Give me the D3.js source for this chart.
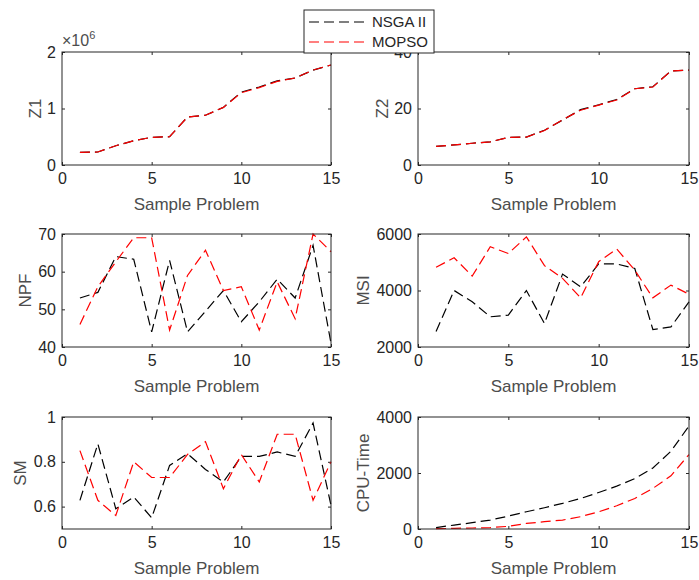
<!DOCTYPE html>
<html lang="en">
<head>
<meta charset="UTF-8">
<script src="https://d3js.org/d3.v7.min.js"></script>
<style>
    body { margin: 0; background: #fff; }
    svg { display: block; font-family: Arial, "Liberation Sans", Helvetica, sans-serif; }
    .tick text { fill: #262626; }
</style>
</head>
<body>
<script>
    // sample problems 1..15
    const problems = [1, 2, 3, 4, 5, 6, 7, 8, 9, 10, 11, 12, 13, 14, 15];
    const seriesNames = ["NSGA II", "MOPSO"];
    const xTicks = [0, 5, 10, 15];

    // values
    const z1Nsga = [225000, 230000, 340000, 430000, 490000, 500000, 850000, 880000, 1020000, 1290000, 1380000, 1490000, 1540000, 1680000, 1770000];
    const z1Mopso = [225000, 230000, 340000, 430000, 490000, 500000, 850000, 880000, 1020000, 1280000, 1370000, 1480000, 1540000, 1680000, 1770000];
    const z2Nsga = [6.6, 7.1, 7.7, 8.2, 9.8, 9.9, 12.3, 15.9, 19.6, 21.3, 23.2, 27.0, 27.7, 33.3, 33.6];
    const z2Mopso = [6.6, 7.1, 7.7, 8.2, 9.8, 9.9, 12.2, 16.0, 19.4, 21.2, 23.0, 27.0, 27.6, 33.3, 33.6];
    const npfNsga = [53, 54.5, 64, 63.3, 44, 63, 44, 49.5, 55, 46.7, 52, 58, 53, 67, 41];
    const npfMopso = [46, 56, 62.6, 69, 69, 44.5, 59, 65.7, 55, 56, 44.5, 57.3, 47.5, 70, 65.3];
    const msiNsga = [2550, 4000, 3600, 3070, 3130, 4000, 2830, 4580, 4130, 4940, 4940, 4780, 2620, 2710, 3600];
    const msiMopso = [4820, 5160, 4510, 5550, 5310, 5900, 4880, 4430, 3740, 5020, 5470, 4720, 3740, 4190, 3870];
    const smNsga = [0.628, 0.88, 0.59, 0.643, 0.55, 0.784, 0.836, 0.766, 0.71, 0.824, 0.824, 0.844, 0.824, 0.973, 0.606];
    const smMopso = [0.85, 0.628, 0.56, 0.80, 0.73, 0.73, 0.833, 0.89, 0.68, 0.832, 0.71, 0.923, 0.923, 0.628, 0.80];
    const cpuNsga = [50, 140, 225, 320, 460, 615, 760, 915, 1090, 1305, 1530, 1800, 2180, 2775, 3680];
    const cpuMopso = [10, 25, 35, 50, 95, 200, 260, 320, 440, 615, 830, 1090, 1450, 1900, 2660];

    const width = 699, height = 580;
    const colors = ["#000000", "#ff0000"];
    const axisColor = "#262626";

    // panel boxes (pixels) + axis setup
    const panels = [
        { label: "Z1", nsga: z1Nsga, mopso: z1Mopso, domain: [0, 2000000], ticks: [0, 1000000, 2000000], fmt: d => d / 1e6, box: [62, 331, 52, 165], labelOff: 27, exp: true },
        { label: "Z2", nsga: z2Nsga, mopso: z2Mopso, domain: [0, 40], ticks: [0, 20, 40], fmt: d => d, box: [418, 689, 52, 165], labelOff: 36 },
        { label: "NPF", nsga: npfNsga, mopso: npfMopso, domain: [40, 70], ticks: [40, 50, 60, 70], fmt: d => d, box: [62, 331, 234, 347], labelOff: 37 },
        { label: "MSI", nsga: msiNsga, mopso: msiMopso, domain: [2000, 6000], ticks: [2000, 4000, 6000], fmt: d => d, box: [418, 689, 234, 347], labelOff: 55 },
        { label: "SM", nsga: smNsga, mopso: smMopso, domain: [0.5, 1], ticks: [0.6, 0.8, 1], fmt: d => d === 1 ? "1" : d3.format(".1f")(d), box: [62, 331, 417, 529], labelOff: 42 },
        { label: "CPU-Time", nsga: cpuNsga, mopso: cpuMopso, domain: [0, 4000], ticks: [0, 2000, 4000], fmt: d => d, box: [418, 689, 417, 529], labelOff: 55 }
    ];

    const svg = d3.select("body").append("svg")
        .attr("width", width)
        .attr("height", height);

    panels.forEach(p => {
        const [x0, x1, y0, y1] = p.box;
        const x = d3.scaleLinear().domain([0, 15]).range([x0, x1]);
        const y = d3.scaleLinear().domain(p.domain).range([y1, y0]);
        const g = svg.append("g");

        // ticks pointing inward, mirrored on top/right like matlab "box on"
        const bottom = g.append("g").attr("transform", `translate(0,${y1})`)
            .call(d3.axisBottom(x).tickValues(xTicks).tickSizeInner(-3).tickSizeOuter(0).tickPadding(8));
        const top = g.append("g").attr("transform", `translate(0,${y0})`)
            .call(d3.axisTop(x).tickValues(xTicks).tickSizeInner(-3).tickSizeOuter(0).tickFormat(""));
        const left = g.append("g").attr("transform", `translate(${x0},0)`)
            .call(d3.axisLeft(y).tickValues(p.ticks).tickSizeInner(-3).tickSizeOuter(0).tickPadding(6).tickFormat(p.fmt));
        const right = g.append("g").attr("transform", `translate(${x1},0)`)
            .call(d3.axisRight(y).tickValues(p.ticks).tickSizeInner(-3).tickSizeOuter(0).tickFormat(""));

        [bottom, top, left, right].forEach(a => {
            a.select(".domain").remove();
            a.selectAll("line").attr("stroke", axisColor);
            a.selectAll("text").style("font-size", "16px").attr("fill", "#4d4d4d");
        });

        // series lines
        const line = d3.line().x((d, i) => x(problems[i])).y(d => y(d));
        [p.nsga, p.mopso].forEach((vals, k) => {
            g.append("path")
                .datum(vals)
                .attr("fill", "none")
                .attr("stroke", colors[k])
                .attr("stroke-width", 1.2)
                .attr("stroke-dasharray", "10,5")
                .attr("d", line);
        });

        // box
        g.append("rect")
            .attr("x", x0).attr("y", y0)
            .attr("width", x1 - x0).attr("height", y1 - y0)
            .attr("fill", "none").attr("stroke", axisColor).attr("stroke-width", 1);

        // labels
        g.append("text")
            .attr("x", (x0 + x1) / 2).attr("y", y1 + 45)
            .attr("text-anchor", "middle")
            .attr("fill", "#4d4d4d")
            .style("font-size", "17px")
            .text("Sample Problem");

        g.append("text")
            .attr("transform", `translate(${x0 - p.labelOff},${(y0 + y1) / 2}) rotate(-90)`)
            .attr("text-anchor", "middle")
            .attr("dy", "0.35em")
            .attr("fill", "#4d4d4d")
            .style("font-size", "17px")
            .text(p.label);

        if (p.exp) {
            const t = g.append("text")
                .attr("x", x0).attr("y", y0 - 6)
                .attr("fill", "#4d4d4d")
                .style("font-size", "16px");
            t.append("tspan").text("\u00d710");
            t.append("tspan").attr("dy", -7).style("font-size", "11px").text("6");
        }
    });

    // legend
    const legend = svg.append("g");
    legend.append("rect")
        .attr("x", 304).attr("y", 10)
        .attr("width", 130).attr("height", 43)
        .attr("fill", "#fff").attr("stroke", axisColor).attr("stroke-width", 1);

    seriesNames.forEach((name, k) => {
        const ly = 22 + k * 20;
        legend.append("line")
            .attr("x1", 309).attr("x2", 367)
            .attr("y1", ly).attr("y2", ly)
            .attr("stroke", colors[k])
            .attr("stroke-width", 1.2)
            .attr("stroke-dasharray", "10,5");
        legend.append("text")
            .attr("x", 372).attr("y", ly)
            .attr("dy", "0.35em")
            .attr("fill", "#262626")
            .style("font-size", "15px")
            .text(name);
    });
</script>
</body>
</html>
